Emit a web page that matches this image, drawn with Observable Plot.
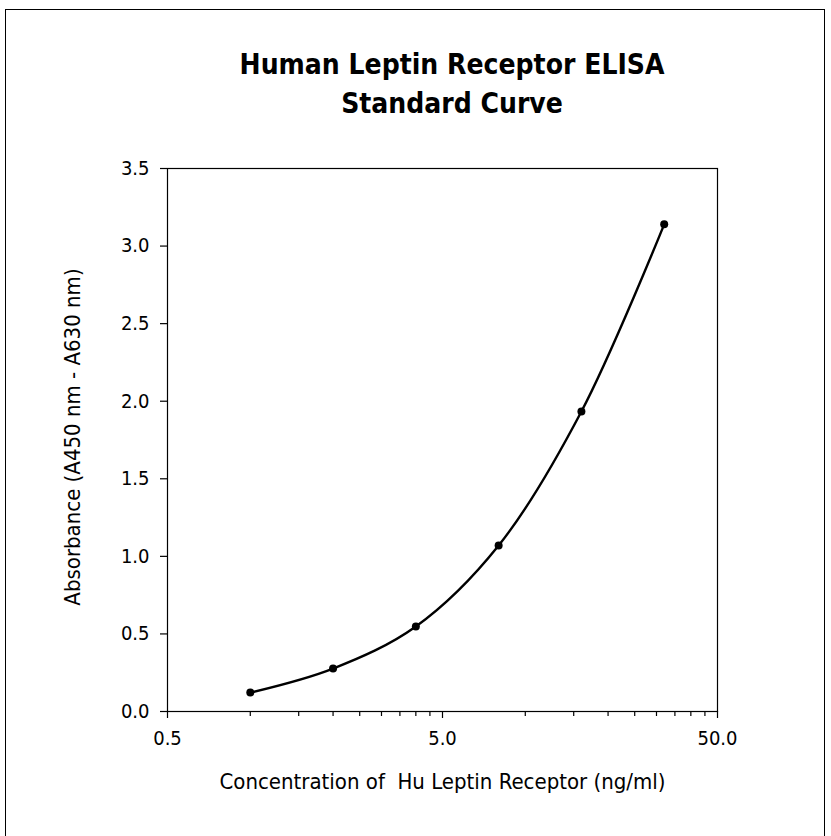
<!DOCTYPE html>
<html>
<head>
<meta charset="utf-8">
<script src="https://cdn.jsdelivr.net/npm/d3@7"></script>
<script src="https://cdn.jsdelivr.net/npm/@observablehq/plot@0.6"></script>
<style>
  html, body { margin: 0; padding: 0; background: #fff; }
  #wrap { position: relative; width: 831px; height: 836px; overflow: hidden; background: #fff; }
  #border { position: absolute; left: 5px; top: 9px; width: 820px; height: 900px; border: 1.5px solid #000; box-sizing: border-box; }
  #title { position: absolute; left: 52px; width: 800px; top: 45px; text-align: center; z-index: 2;
           font-family: "Liberation Sans Narrow", "Arial Narrow", "DejaVu Sans Condensed", sans-serif;
           font-weight: bold; font-size: 28px; line-height: 39px; color: #000; }
  #chart { position: absolute; left: 0; top: 0; z-index: 1; }
</style>
</head>
<body>
<div id="wrap">
  <div id="border"></div>
  <div id="title">Human Leptin Receptor ELISA<br>Standard Curve</div>
  <div id="chart"></div>
</div>
<script>
const concentration = [1, 2, 4, 8, 16, 32];
const absorbance = [0.122, 0.277, 0.548, 1.07, 1.934, 3.14];
const xMajorTicks = [0.5, 5, 50];
const xMinorTicks = [1, 1.5, 2, 2.5, 3, 3.5, 4, 4.5, 10, 15, 20, 25, 30, 35, 40, 45];
const yTicks = [0, 0.5, 1, 1.5, 2, 2.5, 3, 3.5];
const xLabel = "Concentration of  Hu Leptin Receptor (ng/ml)";
const yLabel = "Absorbance (A450 nm - A630 nm)";

const data = concentration.map((c, i) => ({c, a: absorbance[i]}));
const font = '"Liberation Sans Narrow", "Arial Narrow", "DejaVu Sans Condensed", sans-serif';

const chart = Plot.plot({
  width: 831,
  height: 836,
  marginLeft: 167,
  marginRight: 114,
  marginTop: 168,
  marginBottom: 125,
  style: {fontFamily: font, color: "#000", background: "transparent"},
  x: {type: "log", domain: [0.5, 50]},
  y: {domain: [0, 3.5]},
  marks: [
    Plot.frame({stroke: "#000", strokeWidth: 1.2}),
    Plot.axisX({ticks: xMajorTicks, tickSize: 7, tickPadding: 12, fontSize: 20,
                tickFormat: d => d.toFixed(1), label: null, strokeWidth: 1.2}),
    Plot.axisX({ticks: xMinorTicks, tickSize: 5, tickFormat: () => "", label: null, strokeWidth: 1.2}),
    Plot.axisY({ticks: yTicks, tickSize: 7, tickPadding: 11, fontSize: 20,
                tickFormat: d => d.toFixed(1), label: null, strokeWidth: 1.2}),
    Plot.line(data, {x: "c", y: "a", curve: "catmull-rom", stroke: "#000", strokeWidth: 2.4}),
    Plot.dot(data, {x: "c", y: "a", r: 4, fill: "#000", stroke: "none", symbol: "circle"}),
    Plot.text([xLabel], {text: d => d, frameAnchor: "bottom", dy: 77, fontSize: 22}),
    Plot.text([yLabel], {text: d => d, frameAnchor: "left", textAnchor: "middle", dx: -95, dy: -3, rotate: -90, fontSize: 22})
  ]
});
document.getElementById("chart").appendChild(chart);
</script>
</body>
</html>
